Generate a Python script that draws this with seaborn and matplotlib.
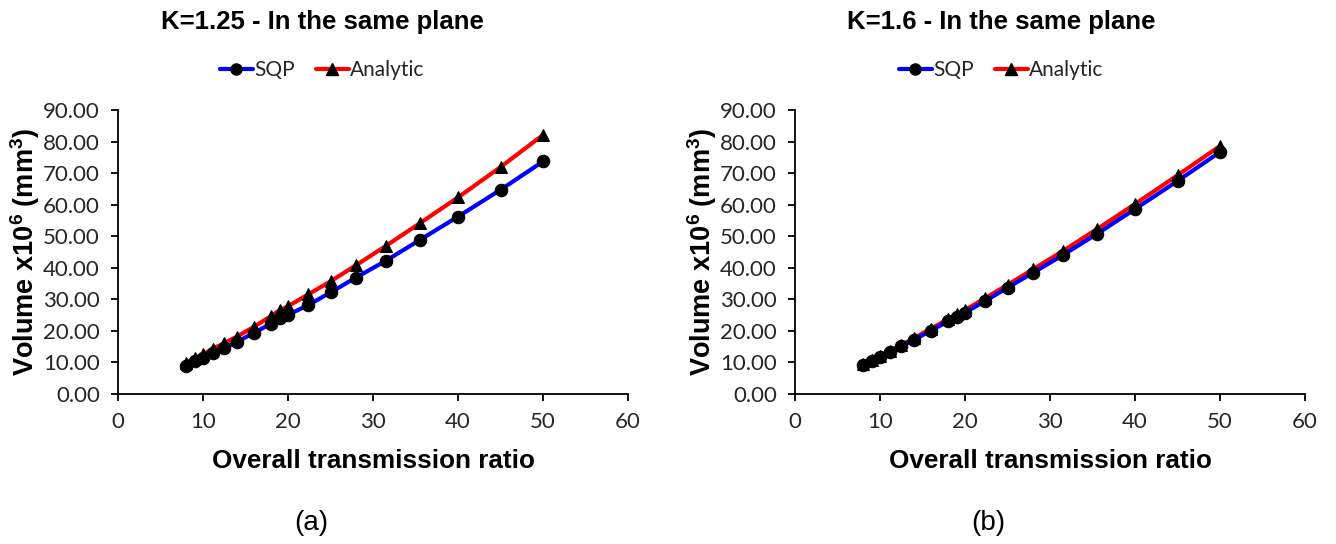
import matplotlib
matplotlib.use("Agg")
import matplotlib.pyplot as plt
import seaborn as sns
import pandas as pd
from matplotlib.lines import Line2D

sns.set_theme(style="white")
plt.rcParams['font.family'] = ['Lato', 'DejaVu Sans']
plt.rcParams['mathtext.fontset'] = 'custom'
plt.rcParams['mathtext.bf'] = 'Liberation Sans:bold'
plt.rcParams['mathtext.rm'] = 'Liberation Sans'

ratio = [8, 9, 10, 11.2, 12.5, 14, 16, 18, 19, 20, 22.4, 25, 28, 31.5, 35.5, 40, 45, 50]
sqp_k125 = [9.0, 10.3, 11.5, 13.0, 14.6, 16.5, 19.4, 22.3, 24.0, 25.1, 28.2, 32.2, 36.9, 42.2, 48.8, 56.2, 64.7, 73.7]
ana_k125 = [9.9, 11.3, 12.6, 14.4, 16.1, 18.2, 21.3, 24.7, 26.5, 27.8, 31.6, 35.7, 40.8, 46.9, 54.1, 62.3, 71.9, 82.1]
sqp_k16 = [9.2, 10.4, 11.7, 13.3, 15.1, 17.2, 20.1, 23.0, 24.4, 25.8, 29.5, 33.7, 38.4, 44.0, 50.7, 58.6, 67.5, 76.7]
ana_k16 = [9.4, 10.7, 12.0, 13.7, 15.5, 17.7, 20.7, 23.7, 25.2, 26.6, 30.4, 34.6, 39.5, 45.3, 52.2, 60.2, 69.3, 78.6]

titles = ["K=1.25 - In the same plane", "K=1.6 - In the same plane"]
panel_labels = ["(a)", "(b)"]
xticks = [0, 10, 20, 30, 40, 50, 60]
yticks = [0, 10, 20, 30, 40, 50, 60, 70, 80, 90]

W, H = 1336, 544
fig = plt.figure(figsize=(W / 100, H / 100), dpi=100)
lefts = [118 / W, 795 / W]
head_x = [322 / W, 1001 / W]
panel_x = [311 / W, 988 / W]
series = [(sqp_k125, ana_k125), (sqp_k16, ana_k16)]

for i in range(2):
    ax = fig.add_axes([lefts[i], 150 / H, 510 / W, 284 / H])
    sqp, ana = series[i]
    df = pd.DataFrame({"ratio": ratio, "SQP": sqp, "Analytic": ana})
    sns.lineplot(data=df, x="ratio", y="SQP", ax=ax, color="#0000FF", lw=3,
                 marker="o", markersize=9, markerfacecolor="black",
                 markeredgecolor="black", zorder=3)
    sns.lineplot(data=df, x="ratio", y="Analytic", ax=ax, color="#FF0000", lw=3,
                 marker="^", markersize=9, markerfacecolor="black",
                 markeredgecolor="black", zorder=2)
    ax.set_xlim(0, 60)
    ax.set_ylim(0, 90)
    ax.set_xticks(xticks)
    ax.set_yticks(yticks)
    ax.set_yticklabels([f"{v:.2f}" for v in yticks])
    ax.set_xticklabels([str(v) for v in xticks])
    for s in ["top", "right"]:
        ax.spines[s].set_visible(False)
    for s in ["left", "bottom"]:
        ax.spines[s].set_color("black")
        ax.spines[s].set_linewidth(1.3)
    ax.tick_params(axis="both", direction="out", length=5, width=1.3, color="black",
                   labelsize=16, labelcolor="#262626", left=True, bottom=True, pad=8)
    ax.set_xlabel("Overall transmission ratio", fontsize=18.8, fontweight="bold",
                  family=["Liberation Sans"], labelpad=12, color="black")
    ax.set_ylabel(r"Volume x10$^\mathbf{6}$ (mm$^\mathbf{3}$)", fontsize=19.5,
                  fontweight="bold", family=["Liberation Sans"], labelpad=1, color="black")
    ax.grid(False)
    fig.text(head_x[i], 1 - 22 / H, titles[i], ha="center", va="center",
             fontsize=18.5, fontweight="bold", family=["Liberation Sans"], color="black")
    handles = [
        Line2D([], [], color="#0000FF", lw=3, marker="o", markersize=8,
               markerfacecolor="black", markeredgecolor="black"),
        Line2D([], [], color="#FF0000", lw=3, marker="^", markersize=8,
               markerfacecolor="black", markeredgecolor="black"),
    ]
    fig.legend(handles, ["SQP", "Analytic"], loc="center",
               bbox_to_anchor=(head_x[i], 1 - 70 / H), ncol=2, frameon=False, fontsize=15,
               handlelength=1.6, handletextpad=0.05, columnspacing=1.0)
    fig.text(panel_x[i], 1 - 523 / H, panel_labels[i], ha="center",
             va="center", fontsize=20, family=["Liberation Sans"], color="black")

fig.savefig("out.png", dpi=100, facecolor="white")
